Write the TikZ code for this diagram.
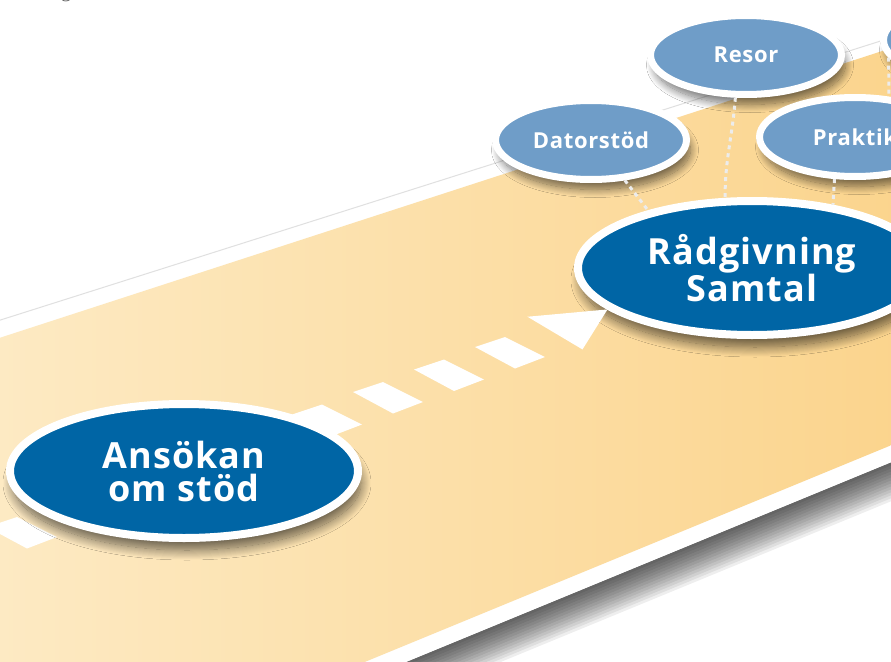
\documentclass[tikz,border=0pt]{standalone}
\usepackage{fontspec}
\setmainfont{Open Sans}
\newfontfamily\stepfont{Open Sans}[LetterSpace=3]
\newfontfamily\captfont{Liberation Serif}
\usetikzlibrary{shapes.geometric}
\usetikzlibrary{shadows.blur}
\definecolor{roadlight}{RGB}{253,235,198}
\definecolor{roaddark}{RGB}{251,211,138}
\definecolor{darkblob}{RGB}{0,101,165}
\definecolor{lightblob}{RGB}{111,157,200}
\definecolor{dotgray}{RGB}{236,236,236}
\tikzset{
  bigstep/.style={ellipse,fill=darkblob,draw=white,line width=8pt,
    minimum width=348pt,minimum height=134pt,inner sep=0pt,text=white,align=center,
    font=\stepfont\bfseries\fontsize{36}{33}\selectfont,
    blur shadow={shadow xshift=3pt,shadow yshift=-12pt,shadow blur radius=10pt,shadow blur steps=20,shadow opacity=60}},
  smallstep/.style={ellipse,fill=lightblob,draw=white,line width=7pt,
    minimum width=191pt,minimum height=79pt,inner sep=0pt,text=white,align=center,
    font=\stepfont\bfseries\fontsize{22}{24}\selectfont,
    blur shadow={shadow xshift=4pt,shadow yshift=-10pt,shadow blur radius=8pt,shadow blur steps=16,shadow opacity=55}},
  dotline/.style={dotgray,line width=3pt,dash pattern=on 4pt off 4pt}
}

\begin{document}
\begin{tikzpicture}[x=1pt,y=-1pt]
      \useasboundingbox (0,0) rectangle (891,661);
      \clip (0,0) rectangle (891,661);
      \fill[white] (0,0) rectangle (891,661);
      \node[text=black!65,font=\captfont\fontsize{20}{20}\selectfont,anchor=base] (cut) at (66,-2) {g};
      \foreach \d in {3,6,...,39}
        \fill[black,opacity=0.065] (100,788) -- (950,438) -- (950,{438+\d}) -- (100,{788+\d}) -- cycle;
      \fill[white] (-50,336) -- (950,19) -- (950,438) -- (100,788) -- (-50,788) -- cycle;
      \draw[black!12,line width=1pt] (-50,336) -- (950,19);
      \shade[left color=roadlight,right color=roaddark] (-50,354) -- (950,29) -- (950,421) -- (100,771) -- (-50,771) -- cycle;
      \foreach \k in {-6,...,2}
        \fill[white,shift={({353+61*\k},{392-22.5*\k})}] (0,0) -- (30,-10) -- (70,10) -- (40,21.5) -- cycle;
      \node[bigstep] (ansokan) at (184,471) {Ansökan\\om stöd};
      \node[bigstep] (radgivning) at (752,268) {Rådgivning\\Samtal};
      \node[smallstep] (dator) at (591,140) {Datorstöd};
      \node[smallstep] (resor) at (746,55) {Resor};
      \node[smallstep] (praktik) at (855,137) {Praktik};
      \node[smallstep] (mer) at (979,40) {};
      \fill[white] (radgivning.196) -- ++(-80,7.3) -- ++(55,32.7) -- cycle;
      \draw[dotline] (dator.-50) -- (radgivning.151);
      \draw[dotline] (resor.-104) .. controls +(-3,40) and +(0,-40) .. (radgivning.111);
      \draw[dotline] (praktik.-116) -- (radgivning.38);
      \draw[dotline] (mer.-169) -- (praktik.50);
\end{tikzpicture}
\end{document}
